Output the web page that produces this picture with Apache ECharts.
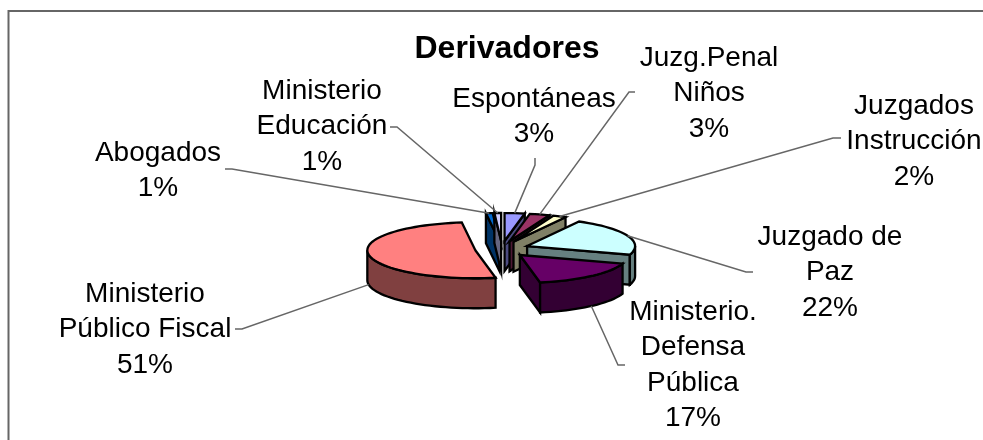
<!DOCTYPE html>
<html>
<head>
<meta charset="utf-8">
<style>
  html, body { margin: 0; padding: 0; background: #fff; }
  #main { width: 983px; height: 440px; }
</style>
<script src="https://cdn.jsdelivr.net/npm/echarts@6/dist/echarts.min.js"></script>
</head>
<body>
<div id="main"></div>
<script>
// datos, en el orden de las porciones (sentido horario desde arriba)
var categories = ['Espontáneas', 'Juzg.Penal\nNiños', 'Juzgados\nInstrucción', 'Juzgado de\nPaz',
  'Ministerio.\nDefensa\nPública', 'Ministerio\nPúblico Fiscal', 'Abogados', 'Ministerio\nEducación'];
var values = [3, 3, 2, 22, 17, 51, 1, 1];
var topColors = ['#9999FF', '#993366', '#FFFFCC', '#CCFFFF', '#660066', '#FF8080', '#0066CC', '#CCCCFF'];
var sideColors = ['#4C4C80', '#4C1933', '#808066', '#668080', '#330033', '#804040', '#003366', '#666680'];

// geometria del pastel
var cx = 502, cy = 249, rx = 108, ry = 28, depth = 30;
var explodeX = 27, explodeY = 8;

// centro del rotulo [x, y primera linea]
var labelPos = [[534, 99], [709, 58], [914, 106], [830, 237], [693, 312], [145, 294], [158, 153], [322, 91]];
// guia: desde el rotulo hasta el codo
var leaders = [
  [[535, 158], [535, 165]],
  [[635, 92], [629, 92]],
  [[841, 138], [833, 138]],
  [[753, 272], [746, 272]],
  [[625, 365], [618, 365]],
  [[235, 329], [242, 329]],
  [[225, 169], [232, 169]],
  [[390, 127], [397, 127]]
];

var total = values.reduce(function (a, b) { return a + b; }, 0);
var rad = Math.PI / 180;

function rimPoint(c, t, dz) {
  return [c[0] + rx * Math.sin(t * rad), c[1] - ry * Math.cos(t * rad) + (dz || 0)];
}

function arcPoints(c, a, b, dz) {
  var pts = [];
  var n = Math.max(2, Math.ceil((b - a) / 3));
  for (var i = 0; i <= n; i++) pts.push(rimPoint(c, a + (b - a) * i / n, dz));
  return pts;
}

function shape(points, fill) {
  return {
    type: 'polygon',
    shape: { points: points },
    style: { fill: fill, stroke: '#000', lineWidth: 2.3, lineJoin: 'miter', miterLimit: 10 }
  };
}

function renderSlice(params, api) {
  var i = params.dataIndex;
  var before = 0;
  for (var k = 0; k < i; k++) before += values[k];
  var a = before / total * 360;
  var b = (before + api.value(0)) / total * 360;
  var mid = (a + b) / 2;
  var c = [cx + explodeX * Math.sin(mid * rad), cy - explodeY * Math.cos(mid * rad)];
  var low = [c[0], c[1] + depth];
  var kids = [];

  // paredes radiales que miran al frente
  if (Math.sin(a * rad) < 0) {
    kids.push(shape([c, rimPoint(c, a), rimPoint(c, a, depth), low], sideColors[i]));
  }
  if (Math.sin(b * rad) > 0) {
    kids.push(shape([c, rimPoint(c, b), rimPoint(c, b, depth), low], sideColors[i]));
  }
  // borde curvo delantero
  var fa = Math.max(a, 90), fb = Math.min(b, 270);
  if (fb > fa) {
    kids.push(shape(arcPoints(c, fa, fb, 0).concat(arcPoints(c, fa, fb, depth).reverse()), sideColors[i]));
  }
  // cara superior
  kids.push(shape([c].concat(arcPoints(c, a, b, 0)), topColors[i]));

  // guia
  var frontMid = Math.cos(mid * rad) < 0;
  var guide = leaders[i].concat([rimPoint(c, mid, frontMid ? depth : 0)]);
  kids.push({
    type: 'polyline',
    z2: 20,
    shape: { points: guide },
    style: { fill: null, stroke: '#666', lineWidth: 1.5 }
  });
  // rotulo
  kids.push({
    type: 'text',
    z2: 30,
    style: {
      text: categories[i] + '\n' + api.value(0) + '%',
      x: labelPos[i][0],
      y: labelPos[i][1] - 18,
      align: 'center',
      verticalAlign: 'top',
      font: '28px "Liberation Sans"',
      lineHeight: 35.6,
      fill: '#000'
    }
  });
  return { type: 'group', children: kids };
}

var chart = echarts.init(document.getElementById('main'));
chart.setOption({
  animation: false,
  backgroundColor: '#fff',
  title: {
    text: 'Derivadores',
    left: 502,
    top: 28,
    textAlign: 'center',
    textStyle: { fontFamily: 'Liberation Sans', fontSize: 32, fontWeight: 'bold', color: '#000' }
  },
  graphic: [{
    type: 'polyline',
    shape: { points: [[8.5, 440], [8.5, 11], [983, 11]] },
    style: { fill: null, stroke: '#666', lineWidth: 2 }
  }],
  series: [{
    type: 'custom',
    coordinateSystem: 'none',
    renderItem: renderSlice,
    data: values.map(function (v) { return [v]; })
  }]
});
</script>
</body>
</html>
